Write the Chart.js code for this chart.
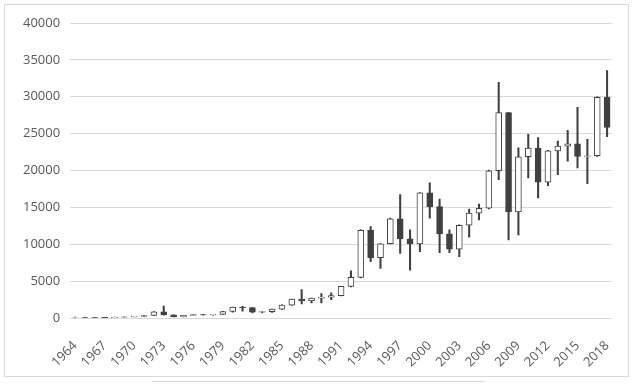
<!DOCTYPE html>
<html>
<head>
<meta charset="utf-8">
<script src="https://cdn.jsdelivr.net/npm/chart.js@4"></script>
<style>
    html, body { margin: 0; padding: 0; background: #fff; }
    #wrap { position: relative; width: 642px; height: 384px; }
    #frame { position: absolute; left: 4px; top: 4px; width: 623px; height: 371px; border: 1px solid #d9d9d9; pointer-events: none; }
    #under { position: absolute; left: 152px; top: 381px; width: 333px; border-top: 1px solid #d9d9d9; }
</style>
</head>
<body>
<div id="wrap">
    <canvas id="chart" width="642" height="384"></canvas>
    <div id="frame"></div>
    <div id="under"></div>
</div>
<script>
// Yearly candles
const years = [];
for (let y = 1964; y <= 2018; y++) years.push(String(y));

const openVals = [
    100, 101, 82, 80, 58, 107, 155, 211, 341, 843,
    433, 171, 350, 447, 404, 495, 879, 1473, 1405, 783,
    874, 1200, 1752, 2568, 2302, 2687, 2837, 3025, 4297, 5512,
    11888, 8191, 10073, 13451, 10723, 10048, 16962, 15096, 11397, 9321,
    12576, 14230, 14876, 19965, 27850, 14380, 21870, 23040, 18430, 22660,
    23300, 23600, 21910, 22000, 29920
];
const closeVals = [
    101, 82, 80, 58, 107, 155, 211, 341, 843, 433,
    171, 350, 447, 404, 495, 879, 1473, 1405, 783, 874,
    1200, 1752, 2568, 2302, 2687, 2837, 3025, 4297, 5512, 11888,
    8191, 10073, 13451, 10723, 10048, 16962, 15096, 11397, 9321, 12576,
    14230, 14876, 19965, 27850, 14380, 21870, 23040, 18430, 22660, 23300,
    23600, 21910, 22000, 29920, 25850
];
const highVals = [
    110, 105, 90, 85, 110, 160, 215, 350, 860, 1620,
    440, 360, 460, 460, 500, 900, 1490, 1580, 1420, 890,
    1220, 1770, 2580, 3860, 2700, 3310, 3400, 4300, 6400, 11950,
    12400, 10100, 13540, 16720, 11950, 17000, 18320, 16140, 11950, 12630,
    14770, 15450, 20050, 31960, 27900, 23090, 24900, 24460, 22720, 24000,
    25450, 28550, 24220, 30000, 33540
];
const lowVals = [
    90, 78, 75, 55, 55, 100, 150, 200, 330, 400,
    150, 160, 340, 390, 390, 480, 800, 940, 680, 680,
    740, 1180, 1720, 1900, 2030, 2030, 2500, 3000, 4210, 5450,
    7630, 6720, 10040, 8770, 6490, 8990, 13540, 8850, 8850, 8310,
    10950, 13310, 14800, 18770, 10580, 11270, 19000, 16270, 17950, 19450,
    21270, 20360, 18220, 21900, 24590
];
const yTicks = [0, 5000, 10000, 15000, 20000, 25000, 30000, 35000, 40000];

const dark = '#404040';
const textColor = '#595959';
const gridColor = '#d9d9d9';

const bodies = years.map((y, i) => [openVals[i], closeVals[i]]);
const wicks = years.map((y, i) => [lowVals[i], highVals[i]]);
const bodyFill = years.map((y, i) => closeVals[i] >= openVals[i] ? '#ffffff' : dark);

new Chart(document.getElementById('chart'), {
    type: 'bar',
    data: {
        labels: years,
        datasets: [
            {
                label: 'body',
                data: bodies,
                backgroundColor: bodyFill,
                borderColor: dark,
                borderWidth: 1,
                borderSkipped: false,
                barThickness: 6,
                grouped: false,
                order: 0
            },
            {
                label: 'wick',
                data: wicks,
                backgroundColor: dark,
                borderWidth: 0,
                barThickness: 1.4,
                grouped: false,
                order: 1
            }
        ]
    },
    options: {
        responsive: false,
        animation: false,
        layout: { padding: { left: 13, right: 30, top: 23, bottom: 0 } },
        plugins: {
            legend: { display: false },
            tooltip: { enabled: false }
        },
        scales: {
            x: {
                grid: { display: false },
                border: { display: false },
                afterFit: (axis) => { axis.height = 66; },
                ticks: {
                    color: textColor,
                    font: { family: 'Open Sans', size: 13 },
                    autoSkip: false,
                    maxRotation: 45,
                    minRotation: 45,
                    padding: 12,
                    callback: function (value, index) {
                        return index % 3 === 0 ? years[index] : '';
                    }
                }
            },
            y: {
                min: 0,
                max: 40000,
                afterBuildTicks: (axis) => { axis.ticks = yTicks.map(v => ({ value: v })); },
                grid: { color: gridColor, drawTicks: false },
                border: { display: false },
                ticks: {
                    color: textColor,
                    font: { family: 'Open Sans', size: 13 },
                    padding: 10,
                    callback: (v) => String(v)
                }
            }
        }
    }
});
</script>
</body>
</html>
